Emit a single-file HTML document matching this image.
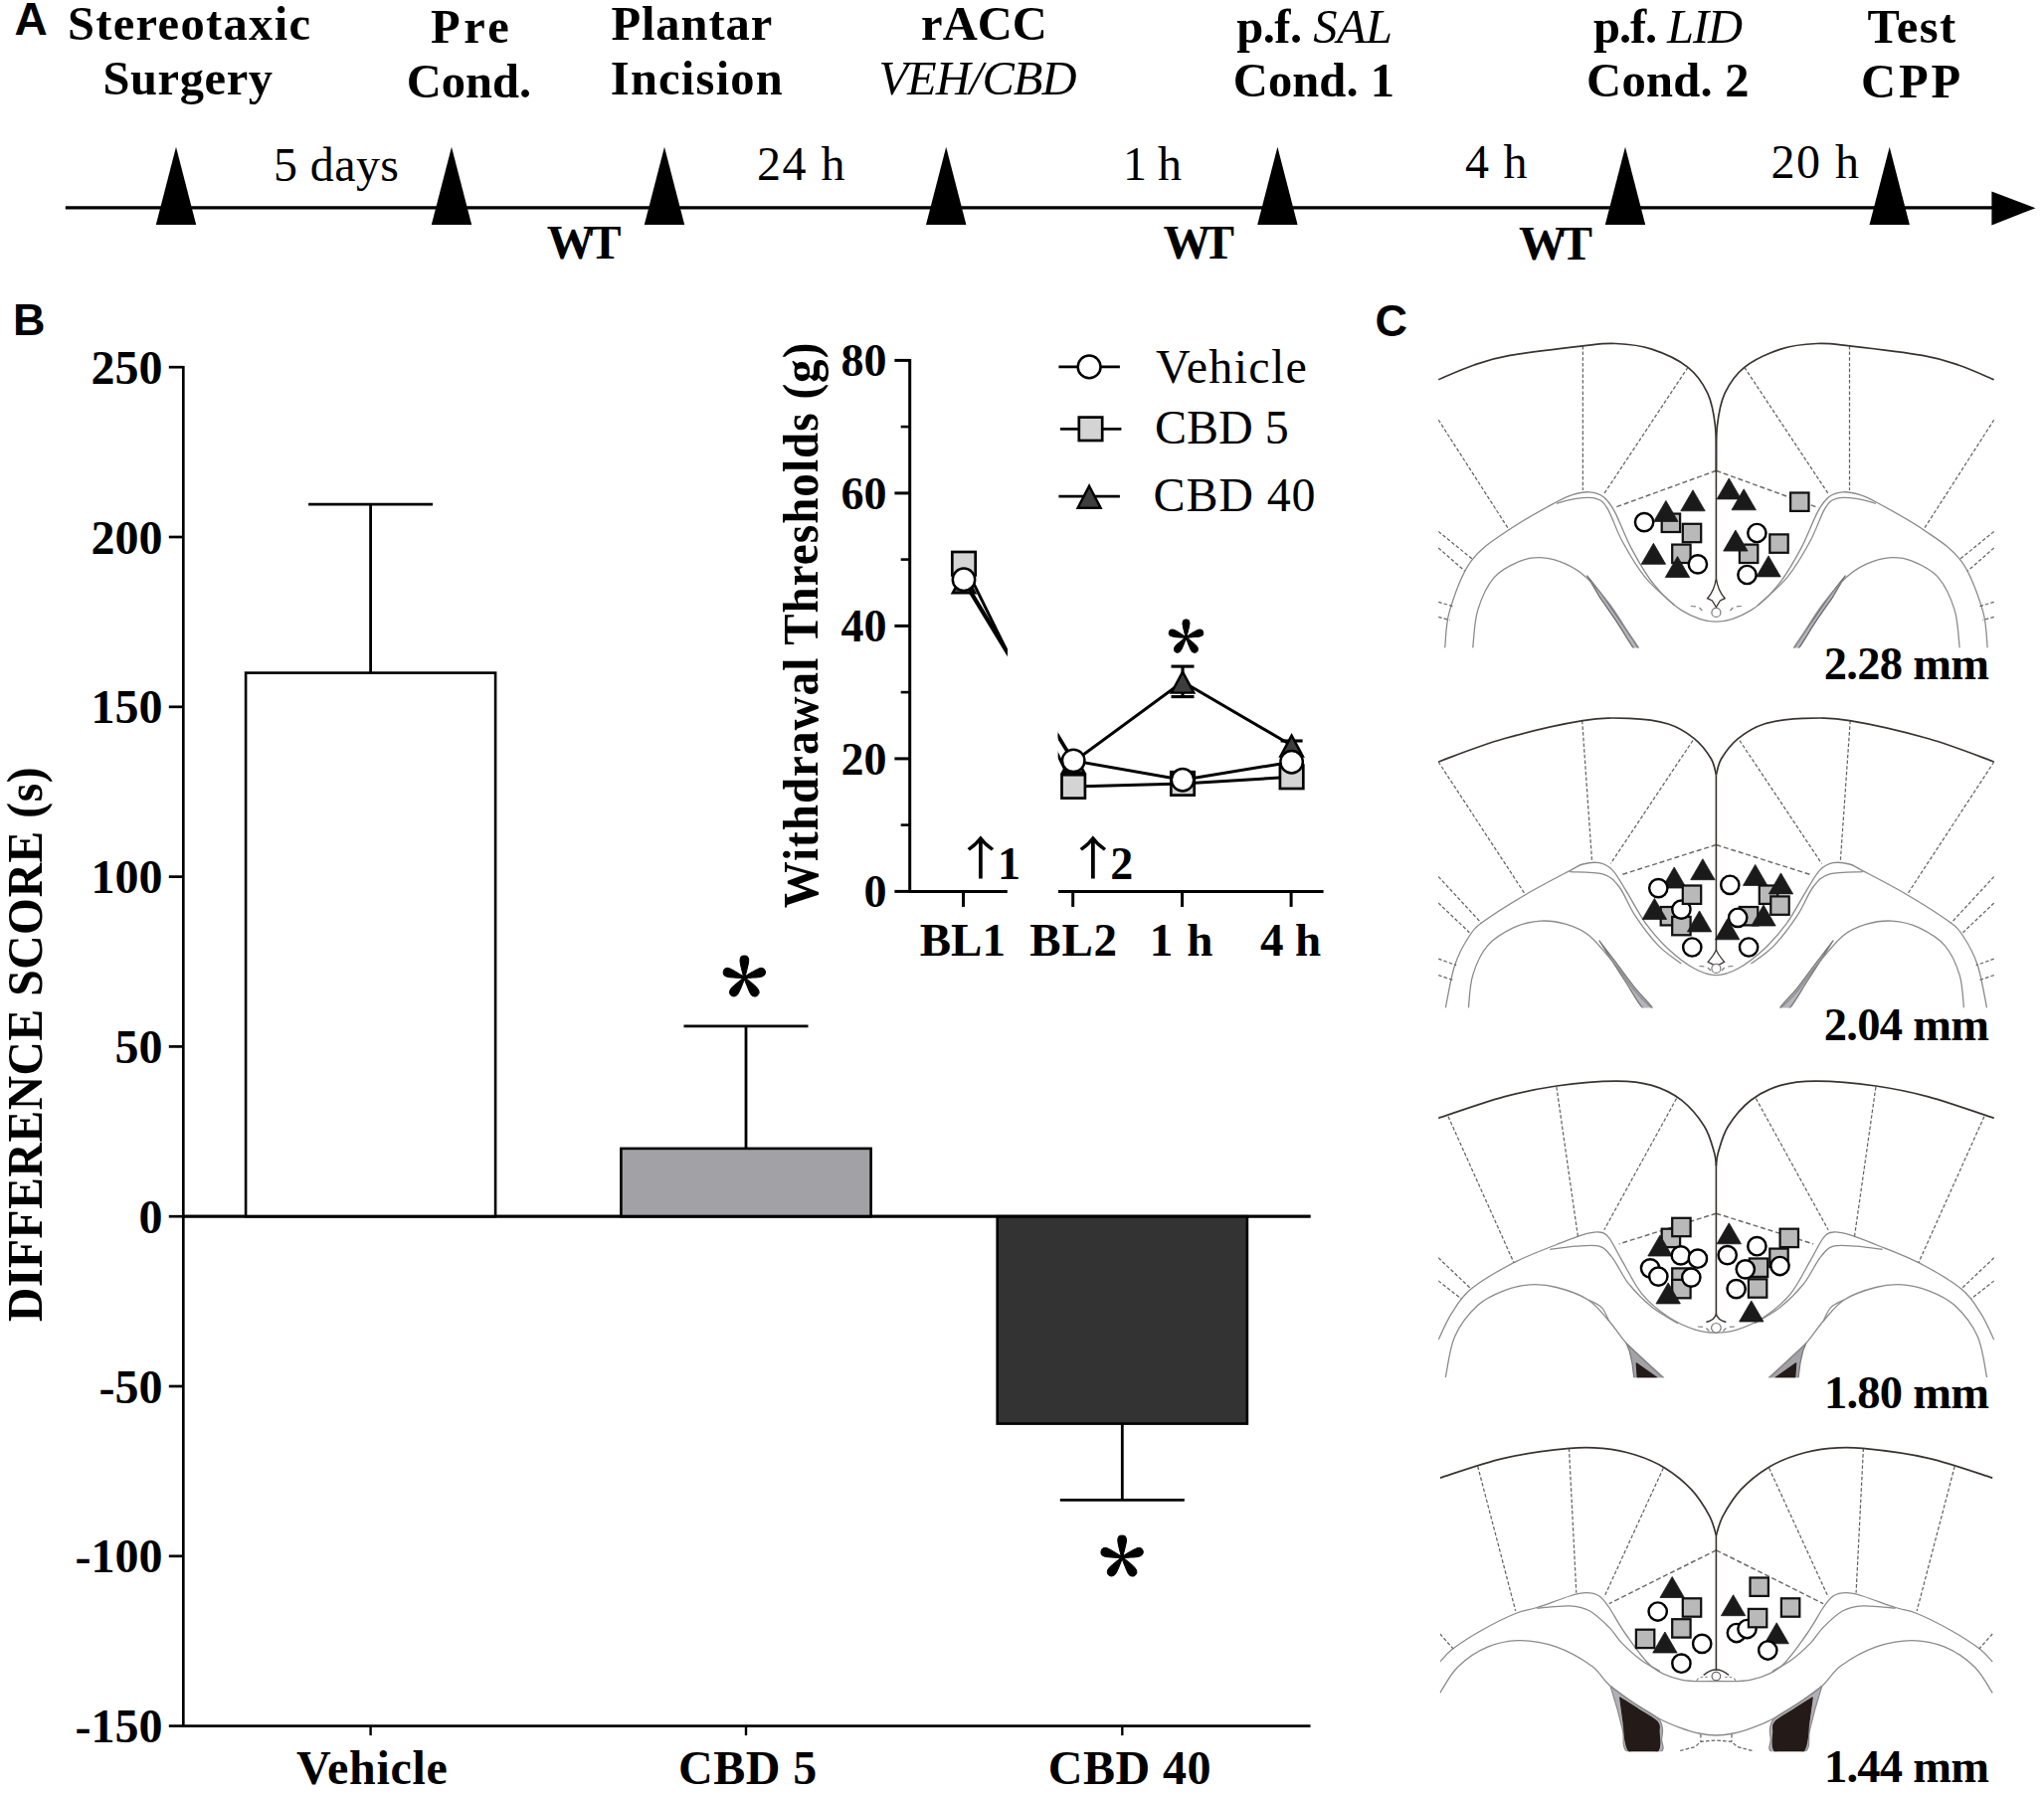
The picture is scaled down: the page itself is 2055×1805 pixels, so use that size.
<!DOCTYPE html>
<html lang="en"><head><meta charset="utf-8"><title>Figure: CBD in rACC and conditioned place preference</title>
<style>html,body{margin:0;padding:0;background:#fff;}svg{display:block;}text{fill:#000;}</style></head><body>
<svg width="2055" height="1805" viewBox="0 0 2055 1805" role="img" aria-label="Experimental timeline, conditioned place preference difference scores, withdrawal thresholds and rACC injection sites">
<rect width="2055" height="1805" fill="#fff"/>
<g id="panelA">
<text x="14.5" y="34.5" font-family='"Liberation Sans", Arial, sans-serif' font-size="46" font-weight="bold" font-style="normal" text-anchor="start">A</text>
<text x="67.90" y="39.6" font-family='"Liberation Serif", "Times New Roman", serif' font-size="48.5" font-weight="bold" font-style="normal" textLength="244.10" lengthAdjust="spacing">Stereotaxic</text>
<text x="103.50" y="94.5" font-family='"Liberation Serif", "Times New Roman", serif' font-size="48.5" font-weight="bold" font-style="normal" textLength="170.50" lengthAdjust="spacing">Surgery</text>
<text x="433.00" y="42.7" font-family='"Liberation Serif", "Times New Roman", serif' font-size="48.5" font-weight="bold" font-style="normal" textLength="78.80" lengthAdjust="spacing">Pre</text>
<text x="408.80" y="97.8" font-family='"Liberation Serif", "Times New Roman", serif' font-size="48.5" font-weight="bold" font-style="normal" textLength="125.30" lengthAdjust="spacing">Cond.</text>
<text x="614.40" y="39.6" font-family='"Liberation Serif", "Times New Roman", serif' font-size="48.5" font-weight="bold" font-style="normal" textLength="161.80" lengthAdjust="spacing">Plantar</text>
<text x="613.80" y="94.7" font-family='"Liberation Serif", "Times New Roman", serif' font-size="48.5" font-weight="bold" font-style="normal" textLength="173.00" lengthAdjust="spacing">Incision</text>
<text x="926.10" y="39.6" font-family='"Liberation Serif", "Times New Roman", serif' font-size="48.5" font-weight="bold" font-style="normal" textLength="126.70" lengthAdjust="spacing">rACC</text>
<text x="883.40" y="94.7" font-family='"Liberation Serif", "Times New Roman", serif' font-size="48.5" font-weight="normal" font-style="italic" textLength="199.10" lengthAdjust="spacing">VEH/CBD</text>
<text x="1243.20" y="43.3" font-family='"Liberation Serif", "Times New Roman", serif' font-size="48.5" font-weight="bold" font-style="normal" textLength="156.80" lengthAdjust="spacing">p.f. <tspan font-weight="normal" font-style="italic">SAL</tspan></text>
<text x="1239.80" y="97.3" font-family='"Liberation Serif", "Times New Roman", serif' font-size="48.5" font-weight="bold" font-style="normal" textLength="162.30" lengthAdjust="spacing">Cond. 1</text>
<text x="1602.00" y="43.3" font-family='"Liberation Serif", "Times New Roman", serif' font-size="48.5" font-weight="bold" font-style="normal" textLength="150.00" lengthAdjust="spacing">p.f. <tspan font-weight="normal" font-style="italic">LID</tspan></text>
<text x="1595.10" y="97.3" font-family='"Liberation Serif", "Times New Roman", serif' font-size="48.5" font-weight="bold" font-style="normal" textLength="163.40" lengthAdjust="spacing">Cond. 2</text>
<text x="1877.40" y="42.5" font-family='"Liberation Serif", "Times New Roman", serif' font-size="48.5" font-weight="bold" font-style="normal" textLength="88.70" lengthAdjust="spacing">Test</text>
<text x="1871.10" y="97.6" font-family='"Liberation Serif", "Times New Roman", serif' font-size="48.5" font-weight="bold" font-style="normal" textLength="100.10" lengthAdjust="spacing">CPP</text>
<line x1="65.8" y1="208.9" x2="2010.0" y2="208.9" stroke="#000" stroke-width="3.3"/>
<polygon points="2002.4,192.4 2046.5,209.2 2002.4,226.4" fill="#000" stroke="none" stroke-width="0"/>
<polygon points="177.0,147.8 197.2,226.0 156.8,226.0" fill="#000" stroke="none" stroke-width="0"/>
<polygon points="454.0,147.8 474.2,226.0 433.8,226.0" fill="#000" stroke="none" stroke-width="0"/>
<polygon points="668.0,147.8 688.2,226.0 647.8,226.0" fill="#000" stroke="none" stroke-width="0"/>
<polygon points="951.2,147.8 971.4,226.0 931.0,226.0" fill="#000" stroke="none" stroke-width="0"/>
<polygon points="1284.4,147.8 1304.6,226.0 1264.2,226.0" fill="#000" stroke="none" stroke-width="0"/>
<polygon points="1634.0,147.8 1654.2,226.0 1613.8,226.0" fill="#000" stroke="none" stroke-width="0"/>
<polygon points="1899.7,147.8 1919.9,226.0 1879.5,226.0" fill="#000" stroke="none" stroke-width="0"/>
<text x="275.00" y="181.5" font-family='"Liberation Serif", "Times New Roman", serif' font-size="48" font-weight="normal" font-style="normal" textLength="126.00" lengthAdjust="spacing">5 days</text>
<text x="761.00" y="181.0" font-family='"Liberation Serif", "Times New Roman", serif' font-size="48" font-weight="normal" font-style="normal" textLength="88.50" lengthAdjust="spacing">24 h</text>
<text x="1128.90" y="181.0" font-family='"Liberation Serif", "Times New Roman", serif' font-size="48" font-weight="normal" font-style="normal" textLength="59.10" lengthAdjust="spacing">1 h</text>
<text x="1473.00" y="178.6" font-family='"Liberation Serif", "Times New Roman", serif' font-size="48" font-weight="normal" font-style="normal" textLength="62.50" lengthAdjust="spacing">4 h</text>
<text x="1780.50" y="179.0" font-family='"Liberation Serif", "Times New Roman", serif' font-size="48" font-weight="normal" font-style="normal" textLength="88.50" lengthAdjust="spacing">20 h</text>
<text x="549.80" y="259.6" font-family='"Liberation Serif", "Times New Roman", serif' font-size="48" font-weight="bold" font-style="normal" textLength="74.80" lengthAdjust="spacing">WT</text>
<text x="1169.60" y="260.0" font-family='"Liberation Serif", "Times New Roman", serif' font-size="48" font-weight="bold" font-style="normal" textLength="71.50" lengthAdjust="spacing">WT</text>
<text x="1527.00" y="260.8" font-family='"Liberation Serif", "Times New Roman", serif' font-size="48" font-weight="bold" font-style="normal" textLength="74.00" lengthAdjust="spacing">WT</text>
</g>
<g id="panelB">
<text x="13.0" y="337.0" font-family='"Liberation Sans", Arial, sans-serif' font-size="45" font-weight="bold" font-style="normal" text-anchor="start">B</text>
<line x1="184.3" y1="367.9" x2="184.3" y2="1736.9" stroke="#000" stroke-width="2.7"/>
<line x1="184.3" y1="1735.6" x2="1317.5" y2="1735.6" stroke="#000" stroke-width="2.7"/>
<line x1="184.3" y1="1223.2" x2="1317.5" y2="1223.2" stroke="#000" stroke-width="2.7"/>
<line x1="169.8" y1="369.2" x2="184.3" y2="369.2" stroke="#000" stroke-width="2.7"/>
<text x="163.5" y="385.7" font-family='"Liberation Serif", "Times New Roman", serif' font-size="48" font-weight="bold" font-style="normal" text-anchor="end">250</text>
<line x1="169.8" y1="540.0" x2="184.3" y2="540.0" stroke="#000" stroke-width="2.7"/>
<text x="163.5" y="556.5" font-family='"Liberation Serif", "Times New Roman", serif' font-size="48" font-weight="bold" font-style="normal" text-anchor="end">200</text>
<line x1="169.8" y1="710.8" x2="184.3" y2="710.8" stroke="#000" stroke-width="2.7"/>
<text x="163.5" y="727.3" font-family='"Liberation Serif", "Times New Roman", serif' font-size="48" font-weight="bold" font-style="normal" text-anchor="end">150</text>
<line x1="169.8" y1="881.6" x2="184.3" y2="881.6" stroke="#000" stroke-width="2.7"/>
<text x="163.5" y="898.1" font-family='"Liberation Serif", "Times New Roman", serif' font-size="48" font-weight="bold" font-style="normal" text-anchor="end">100</text>
<line x1="169.8" y1="1052.4" x2="184.3" y2="1052.4" stroke="#000" stroke-width="2.7"/>
<text x="163.5" y="1068.9" font-family='"Liberation Serif", "Times New Roman", serif' font-size="48" font-weight="bold" font-style="normal" text-anchor="end">50</text>
<line x1="169.8" y1="1223.2" x2="184.3" y2="1223.2" stroke="#000" stroke-width="2.7"/>
<text x="163.5" y="1239.7" font-family='"Liberation Serif", "Times New Roman", serif' font-size="48" font-weight="bold" font-style="normal" text-anchor="end">0</text>
<line x1="169.8" y1="1394.0" x2="184.3" y2="1394.0" stroke="#000" stroke-width="2.7"/>
<text x="163.5" y="1410.5" font-family='"Liberation Serif", "Times New Roman", serif' font-size="48" font-weight="bold" font-style="normal" text-anchor="end">-50</text>
<line x1="169.8" y1="1564.8" x2="184.3" y2="1564.8" stroke="#000" stroke-width="2.7"/>
<text x="163.5" y="1581.3" font-family='"Liberation Serif", "Times New Roman", serif' font-size="48" font-weight="bold" font-style="normal" text-anchor="end">-100</text>
<line x1="169.8" y1="1735.6" x2="184.3" y2="1735.6" stroke="#000" stroke-width="2.7"/>
<text x="163.5" y="1752.1" font-family='"Liberation Serif", "Times New Roman", serif' font-size="48" font-weight="bold" font-style="normal" text-anchor="end">-150</text>
<line x1="372.6" y1="676.6" x2="372.6" y2="507.2" stroke="#000" stroke-width="2.8"/>
<line x1="310.1" y1="507.2" x2="435.1" y2="507.2" stroke="#000" stroke-width="2.8"/>
<rect x="247.1" y="676.6" width="251.0" height="546.6" fill="#fff" stroke="#000" stroke-width="2.6"/>
<line x1="372.6" y1="1735.6" x2="372.6" y2="1745.1" stroke="#000" stroke-width="2.4"/>
<line x1="750.0" y1="1154.9" x2="750.0" y2="1031.9" stroke="#000" stroke-width="2.8"/>
<line x1="687.5" y1="1031.9" x2="812.5" y2="1031.9" stroke="#000" stroke-width="2.8"/>
<rect x="624.4" y="1154.9" width="251.2" height="68.3" fill="#a2a1a6" stroke="#000" stroke-width="2.6"/>
<line x1="750.0" y1="1735.6" x2="750.0" y2="1745.1" stroke="#000" stroke-width="2.4"/>
<line x1="1128.3" y1="1431.6" x2="1128.3" y2="1508.4" stroke="#000" stroke-width="2.8"/>
<line x1="1065.8" y1="1508.4" x2="1190.8" y2="1508.4" stroke="#000" stroke-width="2.8"/>
<rect x="1002.7" y="1223.2" width="251.2" height="208.4" fill="#333" stroke="#000" stroke-width="2.6"/>
<line x1="1128.3" y1="1735.6" x2="1128.3" y2="1745.1" stroke="#000" stroke-width="2.4"/>
<line x1="184.3" y1="1223.2" x2="1317.5" y2="1223.2" stroke="#000" stroke-width="2.7"/>
<text x="298.10" y="1793.6" font-family='"Liberation Serif", "Times New Roman", serif' font-size="48" font-weight="bold" font-style="normal" textLength="151.70" lengthAdjust="spacing">Vehicle</text>
<text x="682.00" y="1793.6" font-family='"Liberation Serif", "Times New Roman", serif' font-size="48" font-weight="bold" font-style="normal" textLength="139.30" lengthAdjust="spacing">CBD 5</text>
<text x="1053.80" y="1793.6" font-family='"Liberation Serif", "Times New Roman", serif' font-size="48" font-weight="bold" font-style="normal" textLength="163.60" lengthAdjust="spacing">CBD 40</text>
<text x="748.2" y="1038.9" font-family='"Noto Serif CJK SC", "Liberation Serif", serif' font-size="94" font-weight="bold" font-style="normal" text-anchor="middle" stroke="#000" stroke-width="1">*</text>
<text x="1128.0" y="1622.3" font-family='"Noto Serif CJK SC", "Liberation Serif", serif' font-size="94" font-weight="bold" font-style="normal" text-anchor="middle" stroke="#000" stroke-width="1">*</text>
<text transform="translate(41.6,1050.2) rotate(-90) scale(1,1.06)" x="0" y="0" text-anchor="middle" font-family='"Liberation Serif", "Times New Roman", serif' font-size="47.5" font-weight="bold" textLength="557.6" lengthAdjust="spacing">DIFFERENCE SCORE (s)</text>
</g>
<g id="inset">
<line x1="914.7" y1="360.9" x2="914.7" y2="897.9" stroke="#000" stroke-width="3"/>
<line x1="914.7" y1="896.4" x2="1012.8" y2="896.4" stroke="#000" stroke-width="3"/>
<line x1="1064.0" y1="896.4" x2="1330.6" y2="896.4" stroke="#000" stroke-width="3"/>
<line x1="899.4" y1="362.4" x2="914.7" y2="362.4" stroke="#000" stroke-width="3"/>
<text x="891.6" y="378.0" font-family='"Liberation Serif", "Times New Roman", serif' font-size="46" font-weight="bold" font-style="normal" text-anchor="end">80</text>
<line x1="899.4" y1="495.9" x2="914.7" y2="495.9" stroke="#000" stroke-width="3"/>
<text x="891.6" y="511.5" font-family='"Liberation Serif", "Times New Roman", serif' font-size="46" font-weight="bold" font-style="normal" text-anchor="end">60</text>
<line x1="899.4" y1="629.4" x2="914.7" y2="629.4" stroke="#000" stroke-width="3"/>
<text x="891.6" y="645.0" font-family='"Liberation Serif", "Times New Roman", serif' font-size="46" font-weight="bold" font-style="normal" text-anchor="end">40</text>
<line x1="899.4" y1="762.9" x2="914.7" y2="762.9" stroke="#000" stroke-width="3"/>
<text x="891.6" y="778.5" font-family='"Liberation Serif", "Times New Roman", serif' font-size="46" font-weight="bold" font-style="normal" text-anchor="end">20</text>
<line x1="899.4" y1="896.4" x2="914.7" y2="896.4" stroke="#000" stroke-width="3"/>
<text x="891.6" y="912.0" font-family='"Liberation Serif", "Times New Roman", serif' font-size="46" font-weight="bold" font-style="normal" text-anchor="end">0</text>
<line x1="905.7" y1="429.1" x2="914.7" y2="429.1" stroke="#000" stroke-width="2.6"/>
<line x1="905.7" y1="562.6" x2="914.7" y2="562.6" stroke="#000" stroke-width="2.6"/>
<line x1="905.7" y1="696.1" x2="914.7" y2="696.1" stroke="#000" stroke-width="2.6"/>
<line x1="905.7" y1="829.6" x2="914.7" y2="829.6" stroke="#000" stroke-width="2.6"/>
<line x1="968.5" y1="896.4" x2="968.5" y2="911.9" stroke="#000" stroke-width="3"/>
<line x1="1078.7" y1="896.4" x2="1078.7" y2="911.9" stroke="#000" stroke-width="3"/>
<line x1="1188.5" y1="896.4" x2="1188.5" y2="911.9" stroke="#000" stroke-width="3"/>
<line x1="1298.1" y1="896.4" x2="1298.1" y2="911.9" stroke="#000" stroke-width="3"/>
<text x="924.80" y="960.9" font-family='"Liberation Serif", "Times New Roman", serif' font-size="47" font-weight="bold" font-style="normal" textLength="86.10" lengthAdjust="spacing">BL1</text>
<text x="1035.20" y="960.9" font-family='"Liberation Serif", "Times New Roman", serif' font-size="47" font-weight="bold" font-style="normal" textLength="87.90" lengthAdjust="spacing">BL2</text>
<text x="1155.80" y="960.9" font-family='"Liberation Serif", "Times New Roman", serif' font-size="47" font-weight="bold" font-style="normal" textLength="63.60" lengthAdjust="spacing">1 h</text>
<text x="1266.90" y="960.9" font-family='"Liberation Serif", "Times New Roman", serif' font-size="47" font-weight="bold" font-style="normal" textLength="61.20" lengthAdjust="spacing">4 h</text>
<text transform="translate(821.8,629) rotate(-90) scale(1,1.1)" x="0" y="0" text-anchor="middle" font-family='"Liberation Serif", "Times New Roman", serif' font-size="47" font-weight="bold" textLength="568.6" lengthAdjust="spacing">Withdrawal Thresholds (g)</text>
<clipPath id="clipL"><rect x="900" y="340" width="112.8" height="560"/></clipPath>
<clipPath id="clipR"><rect x="1063.7" y="340" width="300" height="560"/></clipPath>
<polyline points="969.0,585.3 1079.2,766.2 1189.0,685.5 1298.6,749.5" fill="none" stroke="#000" stroke-width="3" clip-path="url(#clipL)"/>
<polyline points="969.0,585.3 1079.2,766.2 1189.0,685.5 1298.6,749.5" fill="none" stroke="#000" stroke-width="3" clip-path="url(#clipR)"/>
<line x1="1189.0" y1="670.1" x2="1189.0" y2="700.6" stroke="#000" stroke-width="3.1"/>
<line x1="1177.5" y1="670.1" x2="1200.5" y2="670.1" stroke="#000" stroke-width="3.1"/>
<line x1="1177.5" y1="700.6" x2="1200.5" y2="700.6" stroke="#000" stroke-width="3.1"/>
<line x1="1298.6" y1="745.0" x2="1298.6" y2="760.0" stroke="#000" stroke-width="3.1"/>
<line x1="1287.6" y1="745.0" x2="1309.6" y2="745.0" stroke="#000" stroke-width="3.1"/>
<polygon points="969.0,575.4 980.3,596.4 957.7,596.4" fill="#3d3d3d" stroke="#000" stroke-width="2.4" stroke-linejoin="miter"/>
<polygon points="1079.2,756.3 1090.5,777.3 1067.9,777.3" fill="#3d3d3d" stroke="#000" stroke-width="2.4" stroke-linejoin="miter"/>
<polygon points="1189.0,675.6 1200.3,696.6 1177.7,696.6" fill="#3d3d3d" stroke="#000" stroke-width="2.4" stroke-linejoin="miter"/>
<polygon points="1298.6,739.6 1309.9,760.6 1287.3,760.6" fill="#3d3d3d" stroke="#000" stroke-width="2.4" stroke-linejoin="miter"/>
<polyline points="969.0,566.7 1079.2,790.9 1189.0,787.9 1298.6,781.3" fill="none" stroke="#000" stroke-width="3" clip-path="url(#clipL)"/>
<polyline points="969.0,566.7 1079.2,790.9 1189.0,787.9 1298.6,781.3" fill="none" stroke="#000" stroke-width="3" clip-path="url(#clipR)"/>
<rect x="957.3" y="555.0" width="23.4" height="23.4" fill="#d4d4d4" stroke="#000" stroke-width="2.7"/>
<rect x="1067.5" y="779.2" width="23.4" height="23.4" fill="#d4d4d4" stroke="#000" stroke-width="2.7"/>
<rect x="1177.3" y="776.2" width="23.4" height="23.4" fill="#d4d4d4" stroke="#000" stroke-width="2.7"/>
<rect x="1286.9" y="769.6" width="23.4" height="23.4" fill="#d4d4d4" stroke="#000" stroke-width="2.7"/>
<polyline points="969.0,582.7 1079.2,764.9 1189.0,784.3 1298.6,766.2" fill="none" stroke="#000" stroke-width="3" clip-path="url(#clipL)"/>
<polyline points="969.0,582.7 1079.2,764.9 1189.0,784.3 1298.6,766.2" fill="none" stroke="#000" stroke-width="3" clip-path="url(#clipR)"/>
<circle cx="969.0" cy="582.7" r="11.2" fill="#fff" stroke="#000" stroke-width="2.5"/>
<circle cx="1079.2" cy="764.9" r="11.2" fill="#fff" stroke="#000" stroke-width="2.5"/>
<circle cx="1189.0" cy="784.3" r="11.2" fill="#fff" stroke="#000" stroke-width="2.5"/>
<circle cx="1298.6" cy="766.2" r="11.2" fill="#fff" stroke="#000" stroke-width="2.5"/>
<text x="1192.5" y="686.6" font-family='"Noto Serif CJK SC", "Liberation Serif", serif' font-size="77" font-weight="bold" font-style="normal" text-anchor="middle" stroke="#000" stroke-width="0.8">*</text>
<text transform="translate(985.9,880.2) scale(1.15,1)" x="0" y="0" text-anchor="middle" font-family='"Noto Serif CJK SC", "Liberation Serif", serif' font-size="45" font-weight="bold" stroke="#000" stroke-width="1.1">↑</text>
<text x="1003.0" y="884.3" font-family='"Liberation Serif", "Times New Roman", serif' font-size="46" font-weight="bold" font-style="normal" text-anchor="start">1</text>
<text transform="translate(1098.8,880.2) scale(1.15,1)" x="0" y="0" text-anchor="middle" font-family='"Noto Serif CJK SC", "Liberation Serif", serif' font-size="45" font-weight="bold" stroke="#000" stroke-width="1.1">↑</text>
<text x="1116.3" y="884.3" font-family='"Liberation Serif", "Times New Roman", serif' font-size="46" font-weight="bold" font-style="normal" text-anchor="start">2</text>
<line x1="1064.4" y1="368.9" x2="1125.9" y2="368.9" stroke="#000" stroke-width="2.7"/>
<circle cx="1095.1" cy="368.9" r="11.4" fill="#fff" stroke="#000" stroke-width="2.5"/>
<text x="1162.10" y="384.6" font-family='"Liberation Serif", "Times New Roman", serif' font-size="48" font-weight="normal" font-style="normal" textLength="151.80" lengthAdjust="spacing">Vehicle</text>
<line x1="1065.9" y1="431.3" x2="1127.4" y2="431.3" stroke="#000" stroke-width="2.7"/>
<rect x="1084.8" y="419.6" width="23.4" height="23.4" fill="#d4d4d4" stroke="#000" stroke-width="2.7"/>
<text x="1161.00" y="446.4" font-family='"Liberation Serif", "Times New Roman", serif' font-size="48" font-weight="normal" font-style="normal" textLength="134.80" lengthAdjust="spacing">CBD 5</text>
<line x1="1064.4" y1="499.1" x2="1125.9" y2="499.1" stroke="#000" stroke-width="2.7"/>
<polygon points="1095.1,488.7 1106.6,510.7 1083.6,510.7" fill="#3d3d3d" stroke="#000" stroke-width="2.4" stroke-linejoin="miter"/>
<text x="1159.60" y="513.5" font-family='"Liberation Serif", "Times New Roman", serif' font-size="48" font-weight="normal" font-style="normal" textLength="163.00" lengthAdjust="spacing">CBD 40</text>
</g>
<g id="panelC">
<text x="1382.5" y="338.0" font-family='"Liberation Sans", Arial, sans-serif' font-size="45" font-weight="bold" font-style="normal" text-anchor="start">C</text>
<text x="1833.70" y="682.5" font-family='"Liberation Serif", "Times New Roman", serif' font-size="46.5" font-weight="bold" font-style="normal" textLength="166.30" lengthAdjust="spacing">2.28 mm</text>
<text x="1833.70" y="1046.4" font-family='"Liberation Serif", "Times New Roman", serif' font-size="46.5" font-weight="bold" font-style="normal" textLength="166.30" lengthAdjust="spacing">2.04 mm</text>
<text x="1833.90" y="1416.4" font-family='"Liberation Serif", "Times New Roman", serif' font-size="46.5" font-weight="bold" font-style="normal" textLength="166.10" lengthAdjust="spacing">1.80 mm</text>
<text x="1833.90" y="1792.3" font-family='"Liberation Serif", "Times New Roman", serif' font-size="46.5" font-weight="bold" font-style="normal" textLength="166.10" lengthAdjust="spacing">1.44 mm</text>
<clipPath id="c1"><rect x="1446.1" y="290.0" width="558.8" height="361.6"/></clipPath>
<g clip-path="url(#c1)">
<path d="M1595.7,579.0 C1598.2,582.3 1605.3,590.7 1611.2,598.8 C1617.1,606.9 1625.0,618.7 1631.0,627.5 C1637.0,636.4 1645.2,647.9 1647.2,652.0 C1649.1,656.0 1646.1,656.2 1642.5,652.0 C1639.0,647.7 1631.8,634.9 1626.0,626.2 C1620.3,617.5 1610.9,604.2 1607.9,599.8 Z" fill="#b4b4bc" stroke="#666" stroke-width="1.2" stroke-linejoin="round"/>
<path d="M1855.2,579.0 C1852.6,582.3 1845.6,590.7 1839.7,598.8 C1833.8,606.9 1825.9,618.7 1819.9,627.5 C1813.9,636.4 1805.6,647.9 1803.7,652.0 C1801.8,656.0 1804.8,656.2 1808.3,652.0 C1811.9,647.7 1819.1,634.9 1824.8,626.2 C1830.6,617.5 1840.0,604.2 1843.0,599.8 Z" fill="#b4b4bc" stroke="#666" stroke-width="1.2" stroke-linejoin="round"/>
<path d="M1452.7,651.6 C1453.5,645.3 1453.2,628.2 1457.6,613.6 C1462.0,599.1 1469.2,577.6 1479.1,564.1 C1489.0,550.6 1502.7,542.6 1517.1,532.7 C1531.4,522.8 1554.2,510.6 1564.9,504.7 C1575.7,498.8 1575.9,499.0 1581.5,497.4 C1587.0,495.7 1592.8,494.4 1598.0,494.8 C1603.1,495.1 1607.9,496.4 1612.2,499.7 C1616.4,503.0 1618.8,506.0 1623.4,514.6 C1628.0,523.1 1633.4,538.8 1639.9,550.9 C1646.4,563.0 1653.9,576.8 1662.4,587.2 C1670.8,597.7 1679.9,607.3 1690.4,613.6 C1700.9,620.0 1713.8,625.2 1725.4,625.2 C1737.1,625.2 1749.9,620.0 1760.4,613.6 C1771.0,607.3 1780.1,597.7 1788.5,587.2 C1796.9,576.8 1804.5,563.0 1811.0,550.9 C1817.5,538.8 1822.9,523.1 1827.5,514.6 C1832.1,506.0 1834.5,503.0 1838.7,499.7 C1843.0,496.4 1847.8,495.1 1852.9,494.8 C1858.0,494.4 1863.9,495.7 1869.4,497.4 C1874.9,499.0 1875.2,498.8 1885.9,504.7 C1896.7,510.6 1919.5,522.8 1933.8,532.7 C1948.1,542.6 1961.9,550.6 1971.8,564.1 C1981.7,577.6 1988.9,599.1 1993.3,613.6 C1997.7,628.2 1997.4,645.3 1998.2,651.6" fill="none" stroke="#8a8a8a" stroke-width="1.3"/>
<path d="M1564.9,506.3 C1568.2,505.5 1578.2,502.2 1584.8,501.4 C1591.4,500.5 1599.3,499.7 1604.6,501.4 C1609.8,503.0 1611.7,504.1 1616.1,511.3 C1620.5,518.4 1624.7,532.7 1631.0,544.3 C1637.3,555.9 1645.3,569.9 1654.1,580.6 C1662.9,591.4 1678.9,604.0 1683.8,608.7" fill="none" stroke="#8a8a8a" stroke-width="1.3"/>
<path d="M1885.9,506.3 C1882.6,505.5 1872.7,502.2 1866.1,501.4 C1859.5,500.5 1851.5,499.7 1846.3,501.4 C1841.1,503.0 1839.2,504.1 1834.8,511.3 C1830.4,518.4 1826.2,532.7 1819.9,544.3 C1813.6,555.9 1805.6,569.9 1796.8,580.6 C1788.0,591.4 1772.0,604.0 1767.1,608.7" fill="none" stroke="#8a8a8a" stroke-width="1.3"/>
<path d="M1480.7,651.6 C1481.6,645.3 1482.1,625.5 1485.7,613.6 C1489.3,601.8 1495.0,588.9 1502.2,580.6 C1509.3,572.4 1520.4,567.4 1528.6,564.1 C1536.9,560.8 1544.0,560.3 1551.7,560.8 C1559.4,561.4 1567.7,564.1 1574.8,567.4 C1582.0,570.7 1587.5,574.0 1594.7,580.6 C1601.8,587.2 1610.6,597.7 1617.8,607.0 C1624.9,616.4 1632.6,629.3 1637.6,636.8 C1642.5,644.2 1645.9,649.1 1647.5,651.6" fill="none" stroke="#8a8a8a" stroke-width="1.3"/>
<path d="M1970.2,651.6 C1969.3,645.3 1968.8,625.5 1965.2,613.6 C1961.6,601.8 1955.8,588.9 1948.7,580.6 C1941.5,572.4 1930.5,567.4 1922.3,564.1 C1914.0,560.8 1906.9,560.3 1899.2,560.8 C1891.4,561.4 1883.2,564.1 1876.0,567.4 C1868.9,570.7 1863.4,574.0 1856.2,580.6 C1849.1,587.2 1840.3,597.7 1833.1,607.0 C1825.9,616.4 1818.2,629.3 1813.3,636.8 C1808.3,644.2 1805.0,649.1 1803.4,651.6" fill="none" stroke="#8a8a8a" stroke-width="1.3"/>
<line x1="1591.4" y1="347.8" x2="1591.4" y2="493.1" stroke="#646464" stroke-width="1.25" stroke-dasharray="3.6 2.1"/>
<line x1="1859.5" y1="347.8" x2="1859.5" y2="493.1" stroke="#646464" stroke-width="1.25" stroke-dasharray="3.6 2.1"/>
<line x1="1697.0" y1="369.3" x2="1612.8" y2="496.4" stroke="#646464" stroke-width="1.25" stroke-dasharray="3.6 2.1"/>
<line x1="1753.8" y1="369.3" x2="1838.1" y2="496.4" stroke="#646464" stroke-width="1.25" stroke-dasharray="3.6 2.1"/>
<line x1="1446.1" y1="422.1" x2="1517.1" y2="532.7" stroke="#646464" stroke-width="1.25" stroke-dasharray="3.6 2.1"/>
<line x1="2004.8" y1="422.1" x2="1933.8" y2="532.7" stroke="#646464" stroke-width="1.25" stroke-dasharray="3.6 2.1"/>
<line x1="1446.1" y1="534.4" x2="1480.7" y2="562.5" stroke="#646464" stroke-width="1.25" stroke-dasharray="3.6 2.1"/>
<line x1="2004.8" y1="534.4" x2="1970.2" y2="562.5" stroke="#646464" stroke-width="1.25" stroke-dasharray="3.6 2.1"/>
<line x1="1446.1" y1="550.9" x2="1472.5" y2="574.0" stroke="#646464" stroke-width="1.25" stroke-dasharray="3.6 2.1"/>
<line x1="2004.8" y1="550.9" x2="1978.4" y2="574.0" stroke="#646464" stroke-width="1.25" stroke-dasharray="3.6 2.1"/>
<line x1="1446.1" y1="605.4" x2="1460.9" y2="609.7" stroke="#646464" stroke-width="1.25" stroke-dasharray="3.6 2.1"/>
<line x1="2004.8" y1="605.4" x2="1990.0" y2="609.7" stroke="#646464" stroke-width="1.25" stroke-dasharray="3.6 2.1"/>
<line x1="1446.1" y1="620.3" x2="1457.6" y2="623.6" stroke="#646464" stroke-width="1.25" stroke-dasharray="3.6 2.1"/>
<line x1="2004.8" y1="620.3" x2="1993.3" y2="623.6" stroke="#646464" stroke-width="1.25" stroke-dasharray="3.6 2.1"/>
<line x1="1725.4" y1="473.3" x2="1622.7" y2="510.6" stroke="#6a6a6a" stroke-width="1.45" stroke-dasharray="5 2.8"/>
<line x1="1725.4" y1="473.3" x2="1828.2" y2="510.6" stroke="#6a6a6a" stroke-width="1.45" stroke-dasharray="5 2.8"/>
<path d="M1446.1,381.8 C1451.9,379.4 1469.4,371.4 1481.4,367.3 C1493.4,363.2 1499.7,360.6 1518.0,357.4 C1536.4,354.1 1573.6,349.8 1591.4,347.8 C1609.1,345.8 1612.8,344.9 1624.4,345.5 C1635.9,346.0 1648.6,347.1 1660.7,351.1 C1672.8,355.1 1687.7,361.8 1697.0,369.3 C1706.4,376.7 1712.3,385.8 1716.9,395.7 C1721.4,405.6 1723.0,415.5 1724.5,428.7 C1725.9,441.9 1725.3,467.2 1725.4,474.9" fill="none" stroke="#3a3330" stroke-width="1.7"/>
<path d="M2004.8,381.8 C1998.9,379.4 1981.5,371.4 1969.5,367.3 C1957.5,363.2 1951.2,360.6 1932.8,357.4 C1914.5,354.1 1877.2,349.8 1859.5,347.8 C1841.8,345.8 1838.1,344.9 1826.5,345.5 C1814.9,346.0 1802.3,347.1 1790.2,351.1 C1778.1,355.1 1763.2,361.8 1753.8,369.3 C1744.5,376.7 1738.6,385.8 1734.0,395.7 C1729.5,405.6 1727.9,415.5 1726.4,428.7 C1725.0,441.9 1725.6,467.2 1725.4,474.9" fill="none" stroke="#3a3330" stroke-width="1.7"/>
<line x1="1725.4" y1="474.9" x2="1725.4" y2="581.3" stroke="#3a3330" stroke-width="1.6"/>
<path d="M1725.4,581.1 Q1723.9,593.7 1716.6,601.7 L1721.4,603.9 L1725.4,610.6 L1729.4,603.9 L1734.2,601.7 Q1726.9,593.7 1725.4,581.1 Z" fill="#fff" stroke="#3a3330" stroke-width="1.3" stroke-linejoin="miter"/><circle cx="1725.4" cy="615.9" r="4.5" fill="#fff" stroke="#777" stroke-width="1.2"/><path d="M1699.9,609.5 L1704.9,609.8 M1708.4,611.0 L1711.4,614.0" fill="none" stroke="#808080" stroke-width="1.2"/><path d="M1750.9,609.5 L1745.9,609.8 M1742.4,611.0 L1739.4,614.0" fill="none" stroke="#808080" stroke-width="1.2"/>
</g>
<rect x="1670.7" y="516.6" width="18.4" height="18.4" fill="#b9b9b9" stroke="#111" stroke-width="2.25"/>
<polygon points="1674.9,503.4 1687.1,524.4 1662.7,524.4" fill="#1a1a1a" stroke="#1a1a1a" stroke-width="0.8"/>
<polygon points="1702.0,492.8 1714.2,513.8 1689.8,513.8" fill="#1a1a1a" stroke="#1a1a1a" stroke-width="0.8"/>
<rect x="1691.8" y="526.8" width="18.4" height="18.4" fill="#b9b9b9" stroke="#111" stroke-width="2.25"/>
<circle cx="1653.1" cy="525.1" r="9.15" fill="#fff" stroke="#000" stroke-width="2.45"/>
<polygon points="1662.4,546.3 1674.6,567.3 1650.2,567.3" fill="#1a1a1a" stroke="#1a1a1a" stroke-width="0.8"/>
<rect x="1681.2" y="547.6" width="18.4" height="18.4" fill="#b9b9b9" stroke="#111" stroke-width="2.25"/>
<polygon points="1686.5,559.5 1698.7,580.5 1674.3,580.5" fill="#1a1a1a" stroke="#1a1a1a" stroke-width="0.8"/>
<circle cx="1706.9" cy="567.4" r="9.15" fill="#fff" stroke="#000" stroke-width="2.45"/>
<polygon points="1738.3,480.9 1750.5,501.9 1726.1,501.9" fill="#1a1a1a" stroke="#1a1a1a" stroke-width="0.8"/>
<polygon points="1753.2,491.8 1765.4,512.8 1741.0,512.8" fill="#1a1a1a" stroke="#1a1a1a" stroke-width="0.8"/>
<rect x="1800.1" y="495.5" width="18.4" height="18.4" fill="#b9b9b9" stroke="#111" stroke-width="2.25"/>
<circle cx="1766.4" cy="536.0" r="9.15" fill="#fff" stroke="#000" stroke-width="2.45"/>
<rect x="1779.3" y="537.4" width="18.4" height="18.4" fill="#b9b9b9" stroke="#111" stroke-width="2.25"/>
<rect x="1748.9" y="547.6" width="18.4" height="18.4" fill="#b9b9b9" stroke="#111" stroke-width="2.25"/>
<polygon points="1744.9,533.1 1757.1,554.1 1732.7,554.1" fill="#1a1a1a" stroke="#1a1a1a" stroke-width="0.8"/>
<polygon points="1778.0,558.9 1790.2,579.9 1765.8,579.9" fill="#1a1a1a" stroke="#1a1a1a" stroke-width="0.8"/>
<circle cx="1756.5" cy="578.0" r="9.15" fill="#fff" stroke="#000" stroke-width="2.45"/>
<clipPath id="c2"><rect x="1446.1" y="690.0" width="558.8" height="323.6"/></clipPath>
<g clip-path="url(#c2)">
<path d="M1607.9,945.9 C1610.6,949.5 1618.3,959.4 1624.4,967.4 C1630.4,975.4 1638.0,986.1 1644.2,993.8 C1650.4,1001.5 1660.2,1010.3 1661.4,1013.6 C1662.6,1016.9 1656.0,1018.0 1651.5,1013.6 C1647.0,1009.2 1639.6,995.5 1634.3,987.2 C1629.0,979.0 1621.9,968.0 1619.4,964.1 Z" fill="#b4b4bc" stroke="#777" stroke-width="1.2" stroke-linejoin="round"/>
<path d="M1843.0,945.9 C1840.3,949.5 1832.6,959.4 1826.5,967.4 C1820.4,975.4 1812.8,986.1 1806.7,993.8 C1800.5,1001.5 1790.7,1010.3 1789.5,1013.6 C1788.3,1016.9 1794.9,1018.0 1799.4,1013.6 C1803.9,1009.2 1811.3,995.5 1816.6,987.2 C1821.9,979.0 1829.0,968.0 1831.5,964.1 Z" fill="#b4b4bc" stroke="#777" stroke-width="1.2" stroke-linejoin="round"/>
<path d="M1453.3,1013.6 C1454.9,1006.5 1458.5,982.8 1462.6,970.7 C1466.6,958.6 1472.5,948.4 1477.4,941.0 C1482.4,933.6 1482.9,933.0 1492.3,926.1 C1501.6,919.2 1519.3,908.1 1533.6,899.7 C1547.9,891.3 1568.5,880.7 1578.2,875.6 C1587.8,870.5 1586.4,870.3 1591.4,869.0 C1596.3,867.7 1602.9,866.7 1607.9,867.7 C1612.8,868.7 1616.7,870.4 1621.1,874.9 C1625.5,879.5 1628.8,885.9 1634.3,894.8 C1639.8,903.6 1647.0,917.9 1654.1,927.8 C1661.3,937.7 1669.0,946.5 1677.2,954.2 C1685.5,961.9 1695.6,969.6 1703.6,974.0 C1711.7,978.4 1718.2,980.6 1725.4,980.6 C1732.7,980.6 1739.2,978.4 1747.2,974.0 C1755.3,969.6 1765.4,961.9 1773.7,954.2 C1781.9,946.5 1789.6,937.7 1796.8,927.8 C1803.9,917.9 1811.1,903.6 1816.6,894.8 C1822.1,885.9 1825.4,879.5 1829.8,874.9 C1834.2,870.4 1838.1,868.7 1843.0,867.7 C1848.0,866.7 1854.6,867.7 1859.5,869.0 C1864.5,870.3 1863.1,870.5 1872.7,875.6 C1882.4,880.7 1903.0,891.3 1917.3,899.7 C1931.6,908.1 1949.2,919.2 1958.6,926.1 C1968.0,933.0 1968.5,933.6 1973.5,941.0 C1978.4,948.4 1984.3,958.6 1988.3,970.7 C1992.3,982.8 1996.0,1006.5 1997.6,1013.6" fill="none" stroke="#8a8a8a" stroke-width="1.3"/>
<path d="M1578.2,876.6 C1583.7,877.0 1602.9,876.4 1611.2,878.9 C1619.4,881.4 1622.2,884.4 1627.7,891.5 C1633.2,898.5 1637.6,911.3 1644.2,921.2 C1650.8,931.1 1659.6,942.9 1667.3,950.9 C1675.0,958.9 1686.6,966.0 1690.4,969.1" fill="none" stroke="#8a8a8a" stroke-width="1.3"/>
<path d="M1872.7,876.6 C1867.2,877.0 1848.0,876.4 1839.7,878.9 C1831.5,881.4 1828.7,884.4 1823.2,891.5 C1817.7,898.5 1813.3,911.3 1806.7,921.2 C1800.1,931.1 1791.3,942.9 1783.6,950.9 C1775.9,958.9 1764.3,966.0 1760.4,969.1" fill="none" stroke="#8a8a8a" stroke-width="1.3"/>
<path d="M1476.4,1013.6 C1477.1,1008.1 1477.5,991.1 1480.7,980.6 C1483.9,970.2 1488.7,958.9 1495.6,950.9 C1502.5,942.9 1513.2,936.9 1522.0,932.7 C1530.8,928.6 1539.6,926.7 1548.4,926.1 C1557.2,925.6 1566.6,927.0 1574.8,929.4 C1583.1,931.9 1589.7,934.1 1598.0,941.0 C1606.2,947.9 1616.7,961.4 1624.4,970.7 C1632.1,980.1 1638.1,990.0 1644.2,997.1 C1650.3,1004.3 1658.0,1010.9 1660.7,1013.6" fill="none" stroke="#8a8a8a" stroke-width="1.3"/>
<path d="M1974.5,1013.6 C1973.7,1008.1 1973.4,991.1 1970.2,980.6 C1967.0,970.2 1962.2,958.9 1955.3,950.9 C1948.4,942.9 1937.7,936.9 1928.9,932.7 C1920.1,928.6 1911.3,926.7 1902.5,926.1 C1893.7,925.6 1884.3,927.0 1876.0,929.4 C1867.8,931.9 1861.2,934.1 1852.9,941.0 C1844.7,947.9 1834.2,961.4 1826.5,970.7 C1818.8,980.1 1812.7,990.0 1806.7,997.1 C1800.6,1004.3 1792.9,1010.9 1790.2,1013.6" fill="none" stroke="#8a8a8a" stroke-width="1.3"/>
<line x1="1590.7" y1="724.7" x2="1600.6" y2="866.7" stroke="#646464" stroke-width="1.25" stroke-dasharray="3.6 2.1"/>
<line x1="1860.2" y1="724.7" x2="1850.3" y2="866.7" stroke="#646464" stroke-width="1.25" stroke-dasharray="3.6 2.1"/>
<line x1="1702.0" y1="744.5" x2="1619.4" y2="868.3" stroke="#646464" stroke-width="1.25" stroke-dasharray="3.6 2.1"/>
<line x1="1748.9" y1="744.5" x2="1831.5" y2="868.3" stroke="#646464" stroke-width="1.25" stroke-dasharray="3.6 2.1"/>
<line x1="1446.1" y1="766.0" x2="1533.6" y2="899.7" stroke="#646464" stroke-width="1.25" stroke-dasharray="3.6 2.1"/>
<line x1="2004.8" y1="766.0" x2="1917.3" y2="899.7" stroke="#646464" stroke-width="1.25" stroke-dasharray="3.6 2.1"/>
<line x1="1446.1" y1="881.5" x2="1489.0" y2="927.8" stroke="#646464" stroke-width="1.25" stroke-dasharray="3.6 2.1"/>
<line x1="2004.8" y1="881.5" x2="1961.9" y2="927.8" stroke="#646464" stroke-width="1.25" stroke-dasharray="3.6 2.1"/>
<line x1="1446.1" y1="908.0" x2="1477.4" y2="937.7" stroke="#646464" stroke-width="1.25" stroke-dasharray="3.6 2.1"/>
<line x1="2004.8" y1="908.0" x2="1973.5" y2="937.7" stroke="#646464" stroke-width="1.25" stroke-dasharray="3.6 2.1"/>
<line x1="1446.1" y1="964.1" x2="1464.2" y2="970.7" stroke="#646464" stroke-width="1.25" stroke-dasharray="3.6 2.1"/>
<line x1="2004.8" y1="964.1" x2="1986.7" y2="970.7" stroke="#646464" stroke-width="1.25" stroke-dasharray="3.6 2.1"/>
<line x1="1446.1" y1="980.6" x2="1460.9" y2="985.6" stroke="#646464" stroke-width="1.25" stroke-dasharray="3.6 2.1"/>
<line x1="2004.8" y1="980.6" x2="1990.0" y2="985.6" stroke="#646464" stroke-width="1.25" stroke-dasharray="3.6 2.1"/>
<line x1="1725.4" y1="849.5" x2="1629.3" y2="879.9" stroke="#6a6a6a" stroke-width="1.45" stroke-dasharray="5 2.8"/>
<line x1="1725.4" y1="849.5" x2="1821.5" y2="879.9" stroke="#6a6a6a" stroke-width="1.45" stroke-dasharray="5 2.8"/>
<path d="M1446.1,766.0 C1457.1,762.1 1487.9,749.7 1512.1,742.8 C1536.3,736.0 1570.4,728.1 1591.4,724.7 C1612.3,721.3 1623.3,721.8 1637.6,722.4 C1651.9,722.9 1666.2,724.6 1677.2,728.0 C1688.2,731.4 1696.5,737.1 1703.6,742.8 C1710.8,748.6 1716.5,756.6 1720.2,762.7 C1723.8,768.7 1724.6,776.4 1725.4,779.2" fill="none" stroke="#3a3330" stroke-width="1.7"/>
<path d="M2004.8,766.0 C1993.8,762.1 1963.0,749.7 1938.8,742.8 C1914.6,736.0 1880.4,728.1 1859.5,724.7 C1838.6,721.3 1827.6,721.8 1813.3,722.4 C1799.0,722.9 1784.7,724.6 1773.7,728.0 C1762.7,731.4 1754.4,737.1 1747.2,742.8 C1740.1,748.6 1734.4,756.6 1730.7,762.7 C1727.1,768.7 1726.3,776.4 1725.4,779.2" fill="none" stroke="#3a3330" stroke-width="1.7"/>
<line x1="1725.4" y1="779.2" x2="1725.4" y2="955.2" stroke="#3a3330" stroke-width="1.6"/>
<path d="M1725.4,954.9 Q1723.9,959.4 1717.1,967.4 L1721.7,969.6 L1725.4,972.5 L1729.1,969.6 L1733.7,967.4 Q1726.9,959.4 1725.4,954.9 Z" fill="#fff" stroke="#3a3330" stroke-width="1.3" stroke-linejoin="miter"/><circle cx="1725.4" cy="973.9" r="4.5" fill="#fff" stroke="#777" stroke-width="1.2"/><path d="M1708.4,971.5 L1713.4,971.8 M1716.9,973.0 L1719.9,976.0" fill="none" stroke="#808080" stroke-width="1.2"/><path d="M1742.4,971.5 L1737.4,971.8 M1733.9,973.0 L1730.9,976.0" fill="none" stroke="#808080" stroke-width="1.2"/>
</g>
<polygon points="1683.2,872.0 1695.4,893.0 1671.0,893.0" fill="#1a1a1a" stroke="#1a1a1a" stroke-width="0.8"/>
<polygon points="1711.9,863.7 1724.1,884.7 1699.7,884.7" fill="#1a1a1a" stroke="#1a1a1a" stroke-width="0.8"/>
<circle cx="1667.3" cy="893.1" r="9.15" fill="#fff" stroke="#000" stroke-width="2.45"/>
<rect x="1669.7" y="912.0" width="18.4" height="18.4" fill="#b9b9b9" stroke="#111" stroke-width="2.25"/>
<polygon points="1663.4,903.4 1675.6,924.4 1651.2,924.4" fill="#1a1a1a" stroke="#1a1a1a" stroke-width="0.8"/>
<rect x="1681.2" y="921.9" width="18.4" height="18.4" fill="#b9b9b9" stroke="#111" stroke-width="2.25"/>
<circle cx="1690.4" cy="914.6" r="9.15" fill="#fff" stroke="#000" stroke-width="2.45"/>
<rect x="1691.8" y="890.5" width="18.4" height="18.4" fill="#b9b9b9" stroke="#111" stroke-width="2.25"/>
<polygon points="1708.6,915.9 1720.8,936.9 1696.4,936.9" fill="#1a1a1a" stroke="#1a1a1a" stroke-width="0.8"/>
<circle cx="1701.3" cy="952.5" r="9.15" fill="#fff" stroke="#000" stroke-width="2.45"/>
<circle cx="1739.3" cy="889.8" r="9.15" fill="#fff" stroke="#000" stroke-width="2.45"/>
<polygon points="1764.7,869.4 1776.9,890.4 1752.5,890.4" fill="#1a1a1a" stroke="#1a1a1a" stroke-width="0.8"/>
<rect x="1768.8" y="890.5" width="18.4" height="18.4" fill="#b9b9b9" stroke="#111" stroke-width="2.25"/>
<polygon points="1790.5,877.9 1802.7,898.9 1778.3,898.9" fill="#1a1a1a" stroke="#1a1a1a" stroke-width="0.8"/>
<rect x="1780.3" y="901.4" width="18.4" height="18.4" fill="#b9b9b9" stroke="#111" stroke-width="2.25"/>
<rect x="1748.9" y="912.0" width="18.4" height="18.4" fill="#b9b9b9" stroke="#111" stroke-width="2.25"/>
<polygon points="1773.0,910.0 1785.2,931.0 1760.8,931.0" fill="#1a1a1a" stroke="#1a1a1a" stroke-width="0.8"/>
<circle cx="1747.2" cy="922.8" r="9.15" fill="#fff" stroke="#000" stroke-width="2.45"/>
<polygon points="1736.7,923.8 1748.9,944.8 1724.5,944.8" fill="#1a1a1a" stroke="#1a1a1a" stroke-width="0.8"/>
<circle cx="1758.1" cy="952.5" r="9.15" fill="#fff" stroke="#000" stroke-width="2.45"/>
<clipPath id="c3"><rect x="1446.1" y="1060.0" width="558.8" height="325.3"/></clipPath>
<g clip-path="url(#c3)">
<path d="M1635.0,1350.6 L1654.1,1368.8 L1672.9,1386.0 L1642.9,1386.0 L1640.9,1370.4 L1638.3,1358.9 Z" fill="#a3a2a8" stroke="#777" stroke-width="1.2" stroke-linejoin="round"/>
<path d="M1815.9,1350.6 L1796.8,1368.8 L1778.0,1386.0 L1808.0,1386.0 L1810.0,1370.4 L1812.6,1358.9 Z" fill="#a3a2a8" stroke="#777" stroke-width="1.2" stroke-linejoin="round"/>
<path d="M1645.2,1370.8 L1665.7,1385.3 L1646.2,1385.3 Z" fill="#241b18" stroke="#241b18" stroke-width="1.2" stroke-linejoin="round"/>
<path d="M1805.7,1370.8 L1785.2,1385.3 L1804.7,1385.3 Z" fill="#241b18" stroke="#241b18" stroke-width="1.2" stroke-linejoin="round"/>
<path d="M1446.1,1347.3 C1448.3,1342.9 1453.8,1329.4 1459.3,1320.9 C1464.8,1312.4 1468.6,1304.7 1479.1,1296.1 C1489.5,1287.6 1507.7,1277.1 1522.0,1269.7 C1536.3,1262.3 1553.4,1256.2 1564.9,1251.5 C1576.5,1246.9 1584.2,1243.7 1591.4,1241.6 C1598.5,1239.5 1603.5,1238.4 1607.9,1239.0 C1612.3,1239.5 1613.9,1240.1 1617.8,1244.9 C1621.6,1249.8 1625.5,1258.7 1631.0,1268.1 C1636.5,1277.4 1643.1,1291.7 1650.8,1301.1 C1658.5,1310.4 1668.4,1318.3 1677.2,1324.2 C1686.0,1330.1 1695.6,1334.1 1703.6,1336.8 C1711.7,1339.4 1718.2,1340.1 1725.4,1340.1 C1732.7,1340.1 1739.2,1339.4 1747.2,1336.8 C1755.3,1334.1 1764.9,1330.1 1773.7,1324.2 C1782.5,1318.3 1792.4,1310.4 1800.1,1301.1 C1807.8,1291.7 1814.4,1277.4 1819.9,1268.1 C1825.4,1258.7 1829.3,1249.8 1833.1,1244.9 C1837.0,1240.1 1838.6,1239.5 1843.0,1239.0 C1847.4,1238.4 1852.4,1239.5 1859.5,1241.6 C1866.7,1243.7 1874.4,1246.9 1885.9,1251.5 C1897.5,1256.2 1914.6,1262.3 1928.9,1269.7 C1943.2,1277.1 1961.4,1287.6 1971.8,1296.1 C1982.3,1304.7 1986.1,1312.4 1991.6,1320.9 C1997.1,1329.4 2002.6,1342.9 2004.8,1347.3" fill="none" stroke="#8a8a8a" stroke-width="1.3"/>
<path d="M1558.3,1256.5 C1562.7,1255.9 1576.5,1253.7 1584.8,1253.2 C1593.0,1252.6 1601.8,1251.3 1607.9,1253.2 C1613.9,1255.1 1616.1,1258.4 1621.1,1264.8 C1626.0,1271.1 1631.0,1282.9 1637.6,1291.2 C1644.2,1299.4 1652.5,1307.7 1660.7,1314.3 C1669.0,1320.9 1682.7,1328.1 1687.1,1330.8" fill="none" stroke="#8a8a8a" stroke-width="1.3"/>
<path d="M1892.5,1256.5 C1888.1,1255.9 1874.4,1253.7 1866.1,1253.2 C1857.9,1252.6 1849.1,1251.3 1843.0,1253.2 C1837.0,1255.1 1834.8,1258.4 1829.8,1264.8 C1824.8,1271.1 1819.9,1282.9 1813.3,1291.2 C1806.7,1299.4 1798.4,1307.7 1790.2,1314.3 C1781.9,1320.9 1768.2,1328.1 1763.8,1330.8" fill="none" stroke="#8a8a8a" stroke-width="1.3"/>
<path d="M1453.3,1385.3 C1454.9,1378.4 1457.2,1356.1 1462.6,1344.0 C1468.0,1331.9 1477.4,1320.3 1485.7,1312.6 C1493.9,1304.9 1503.3,1301.2 1512.1,1297.8 C1520.9,1294.3 1529.7,1292.4 1538.5,1291.8 C1547.3,1291.3 1555.3,1291.9 1564.9,1294.5 C1574.6,1297.0 1587.8,1301.4 1596.6,1307.0 C1605.5,1312.7 1611.4,1321.2 1617.8,1328.5 C1624.2,1335.8 1628.9,1343.9 1635.0,1350.6 C1641.0,1357.3 1647.8,1363.0 1654.1,1368.8 C1660.4,1374.6 1669.5,1382.8 1672.6,1385.6" fill="none" stroke="#8a8a8a" stroke-width="1.3"/>
<path d="M1997.6,1385.3 C1996.0,1378.4 1993.7,1356.1 1988.3,1344.0 C1982.9,1331.9 1973.5,1320.3 1965.2,1312.6 C1956.9,1304.9 1947.6,1301.2 1938.8,1297.8 C1930.0,1294.3 1921.2,1292.4 1912.4,1291.8 C1903.6,1291.3 1895.6,1291.9 1885.9,1294.5 C1876.3,1297.0 1863.0,1301.4 1854.2,1307.0 C1845.4,1312.7 1839.5,1321.2 1833.1,1328.5 C1826.7,1335.8 1822.0,1343.9 1815.9,1350.6 C1809.9,1357.3 1803.1,1363.0 1796.8,1368.8 C1790.5,1374.6 1781.4,1382.8 1778.3,1385.6" fill="none" stroke="#8a8a8a" stroke-width="1.3"/>
<path d="M1596.6,1307.0 C1598.9,1308.3 1606.7,1311.0 1610.2,1314.6 C1613.7,1318.2 1616.5,1326.2 1617.8,1328.5" fill="none" stroke="#8a8a8a" stroke-width="1.3"/>
<path d="M1854.2,1307.0 C1852.0,1308.3 1844.2,1311.0 1840.7,1314.6 C1837.2,1318.2 1834.4,1326.2 1833.1,1328.5" fill="none" stroke="#8a8a8a" stroke-width="1.3"/>
<line x1="1456.0" y1="1122.7" x2="1522.0" y2="1269.7" stroke="#646464" stroke-width="1.25" stroke-dasharray="3.6 2.1"/>
<line x1="1994.9" y1="1122.7" x2="1928.9" y2="1269.7" stroke="#646464" stroke-width="1.25" stroke-dasharray="3.6 2.1"/>
<line x1="1564.9" y1="1093.0" x2="1586.4" y2="1243.3" stroke="#646464" stroke-width="1.25" stroke-dasharray="3.6 2.1"/>
<line x1="1885.9" y1="1093.0" x2="1864.5" y2="1243.3" stroke="#646464" stroke-width="1.25" stroke-dasharray="3.6 2.1"/>
<line x1="1685.5" y1="1104.6" x2="1612.8" y2="1236.7" stroke="#646464" stroke-width="1.25" stroke-dasharray="3.6 2.1"/>
<line x1="1765.4" y1="1104.6" x2="1838.1" y2="1236.7" stroke="#646464" stroke-width="1.25" stroke-dasharray="3.6 2.1"/>
<line x1="1446.1" y1="1264.8" x2="1479.1" y2="1296.1" stroke="#646464" stroke-width="1.25" stroke-dasharray="3.6 2.1"/>
<line x1="2004.8" y1="1264.8" x2="1971.8" y2="1296.1" stroke="#646464" stroke-width="1.25" stroke-dasharray="3.6 2.1"/>
<line x1="1446.1" y1="1287.9" x2="1469.2" y2="1306.0" stroke="#646464" stroke-width="1.25" stroke-dasharray="3.6 2.1"/>
<line x1="2004.8" y1="1287.9" x2="1981.7" y2="1306.0" stroke="#646464" stroke-width="1.25" stroke-dasharray="3.6 2.1"/>
<line x1="1725.4" y1="1220.2" x2="1627.7" y2="1250.9" stroke="#6a6a6a" stroke-width="1.45" stroke-dasharray="5 2.8"/>
<line x1="1725.4" y1="1220.2" x2="1823.2" y2="1250.9" stroke="#6a6a6a" stroke-width="1.45" stroke-dasharray="5 2.8"/>
<path d="M1446.1,1124.4 C1457.1,1120.8 1492.3,1108.3 1512.1,1102.9 C1531.9,1097.5 1546.2,1094.7 1564.9,1092.0 C1583.7,1089.4 1608.4,1087.2 1624.4,1087.1 C1640.3,1087.0 1649.7,1088.2 1660.7,1091.4 C1671.7,1094.6 1681.6,1099.4 1690.4,1106.2 C1699.2,1113.1 1708.0,1123.8 1713.6,1132.7 C1719.1,1141.5 1721.5,1152.5 1723.5,1159.1 C1725.4,1165.7 1725.1,1170.1 1725.4,1172.3" fill="none" stroke="#3a3330" stroke-width="1.7"/>
<path d="M2004.8,1124.4 C1993.8,1120.8 1958.6,1108.3 1938.8,1102.9 C1919.0,1097.5 1904.7,1094.7 1885.9,1092.0 C1867.2,1089.4 1842.5,1087.2 1826.5,1087.1 C1810.5,1087.0 1801.2,1088.2 1790.2,1091.4 C1779.2,1094.6 1769.3,1099.4 1760.4,1106.2 C1751.6,1113.1 1742.8,1123.8 1737.3,1132.7 C1731.8,1141.5 1729.4,1152.5 1727.4,1159.1 C1725.4,1165.7 1725.8,1170.1 1725.4,1172.3" fill="none" stroke="#3a3330" stroke-width="1.7"/>
<line x1="1725.4" y1="1172.3" x2="1725.4" y2="1320.9" stroke="#3a3330" stroke-width="1.6"/>
<path d="M1715.4,1329.5 Q1724.4,1327.0 1725.4,1320.8 Q1726.4,1327.0 1735.4,1329.5" fill="none" stroke="#3a3330" stroke-width="1.4"/><circle cx="1725.4" cy="1335.3" r="4.8" fill="#fff" stroke="#777" stroke-width="1.2"/><path d="M1706.9,1334.0 L1711.9,1334.3 M1715.4,1335.5 L1718.4,1338.5" fill="none" stroke="#808080" stroke-width="1.2"/><path d="M1743.9,1334.0 L1738.9,1334.3 M1735.4,1335.5 L1732.4,1338.5" fill="none" stroke="#808080" stroke-width="1.2"/>
</g>
<rect x="1670.7" y="1235.7" width="18.4" height="18.4" fill="#b9b9b9" stroke="#111" stroke-width="2.25"/>
<rect x="1681.2" y="1224.8" width="18.4" height="18.4" fill="#b9b9b9" stroke="#111" stroke-width="2.25"/>
<polygon points="1669.0,1242.0 1681.2,1263.0 1656.8,1263.0" fill="#1a1a1a" stroke="#1a1a1a" stroke-width="0.8"/>
<circle cx="1689.8" cy="1262.4" r="9.15" fill="#fff" stroke="#000" stroke-width="2.45"/>
<circle cx="1706.9" cy="1265.7" r="9.15" fill="#fff" stroke="#000" stroke-width="2.45"/>
<circle cx="1659.1" cy="1275.3" r="9.15" fill="#fff" stroke="#000" stroke-width="2.45"/>
<rect x="1681.2" y="1275.4" width="18.4" height="18.4" fill="#b9b9b9" stroke="#111" stroke-width="2.25"/>
<rect x="1681.2" y="1286.9" width="18.4" height="18.4" fill="#b9b9b9" stroke="#111" stroke-width="2.25"/>
<circle cx="1667.3" cy="1283.6" r="9.15" fill="#fff" stroke="#000" stroke-width="2.45"/>
<circle cx="1700.3" cy="1284.6" r="9.15" fill="#fff" stroke="#000" stroke-width="2.45"/>
<polygon points="1677.2,1289.9 1689.4,1310.9 1665.0,1310.9" fill="#1a1a1a" stroke="#1a1a1a" stroke-width="0.8"/>
<polygon points="1738.3,1229.8 1750.5,1250.8 1726.1,1250.8" fill="#1a1a1a" stroke="#1a1a1a" stroke-width="0.8"/>
<rect x="1789.6" y="1235.7" width="18.4" height="18.4" fill="#b9b9b9" stroke="#111" stroke-width="2.25"/>
<circle cx="1766.4" cy="1253.2" r="9.15" fill="#fff" stroke="#000" stroke-width="2.45"/>
<circle cx="1736.7" cy="1262.1" r="9.15" fill="#fff" stroke="#000" stroke-width="2.45"/>
<rect x="1779.3" y="1255.6" width="18.4" height="18.4" fill="#b9b9b9" stroke="#111" stroke-width="2.25"/>
<rect x="1758.8" y="1265.5" width="18.4" height="18.4" fill="#b9b9b9" stroke="#111" stroke-width="2.25"/>
<circle cx="1754.8" cy="1276.3" r="9.15" fill="#fff" stroke="#000" stroke-width="2.45"/>
<circle cx="1789.5" cy="1273.0" r="9.15" fill="#fff" stroke="#000" stroke-width="2.45"/>
<rect x="1757.9" y="1286.3" width="18.4" height="18.4" fill="#b9b9b9" stroke="#111" stroke-width="2.25"/>
<circle cx="1745.6" cy="1296.1" r="9.15" fill="#fff" stroke="#000" stroke-width="2.45"/>
<polygon points="1760.8,1308.0 1773.0,1329.0 1748.6,1329.0" fill="#1a1a1a" stroke="#1a1a1a" stroke-width="0.8"/>
<clipPath id="c4"><rect x="1447.7" y="1425.0" width="557.1" height="336.2"/></clipPath>
<g clip-path="url(#c4)">
<path d="M1619.1,1695.5 C1622.9,1698.2 1634.1,1706.7 1641.9,1712.0 C1649.7,1717.3 1661.1,1722.9 1666.0,1727.2 C1670.9,1731.4 1670.5,1733.8 1671.3,1737.4 C1672.1,1741.1 1671.0,1745.0 1670.6,1749.0 C1670.3,1753.0 1675.0,1759.4 1669.3,1761.5 C1663.6,1763.6 1642.5,1764.9 1636.3,1761.5 C1630.0,1758.1 1633.2,1747.8 1631.7,1741.1 C1630.1,1734.3 1627.5,1724.3 1626.7,1720.9 Z" fill="#b0b0b6" stroke="#8a8a8a" stroke-width="1.2" stroke-linejoin="round"/>
<path d="M1831.8,1695.5 C1828.0,1698.2 1816.8,1706.7 1809.0,1712.0 C1801.2,1717.3 1789.8,1722.9 1784.9,1727.2 C1780.0,1731.4 1780.4,1733.8 1779.6,1737.4 C1778.8,1741.1 1779.9,1745.0 1780.3,1749.0 C1780.6,1753.0 1775.9,1759.4 1781.6,1761.5 C1787.3,1763.6 1808.3,1764.9 1814.6,1761.5 C1820.9,1758.1 1817.6,1747.8 1819.2,1741.1 C1820.8,1734.3 1823.4,1724.3 1824.2,1720.9 Z" fill="#b0b0b6" stroke="#8a8a8a" stroke-width="1.2" stroke-linejoin="round"/>
<path d="M1628.7,1707.0 C1631.8,1709.0 1641.3,1714.9 1647.5,1718.9 C1653.7,1722.9 1662.6,1727.5 1666.0,1731.1 C1669.4,1734.8 1668.0,1736.0 1668.0,1741.1 C1668.0,1746.1 1671.0,1758.1 1666.0,1761.5 C1661.0,1764.9 1643.9,1766.2 1638.3,1761.5 C1632.6,1756.8 1633.3,1738.1 1632.3,1733.5 Z" fill="#241b18" stroke="#241b18" stroke-width="1.2" stroke-linejoin="round"/>
<path d="M1822.2,1707.0 C1819.1,1709.0 1809.6,1714.9 1803.4,1718.9 C1797.2,1722.9 1788.3,1727.5 1784.9,1731.1 C1781.5,1734.8 1782.9,1736.0 1782.9,1741.1 C1782.9,1746.1 1779.9,1758.1 1784.9,1761.5 C1789.8,1764.9 1807.0,1766.2 1812.6,1761.5 C1818.2,1756.8 1817.6,1738.1 1818.6,1733.5 Z" fill="#241b18" stroke="#241b18" stroke-width="1.2" stroke-linejoin="round"/>
<path d="M1447.7,1671.0 C1449.9,1668.8 1454.0,1663.1 1460.9,1657.8 C1467.8,1652.6 1478.5,1645.6 1489.0,1639.7 C1499.4,1633.8 1514.3,1626.3 1523.7,1622.5 C1533.0,1618.6 1536.0,1619.5 1545.1,1616.5 C1554.2,1613.6 1569.9,1607.5 1578.2,1605.0 C1586.4,1602.5 1589.7,1601.7 1594.7,1601.7 C1599.6,1601.7 1604.0,1602.5 1607.9,1605.0 C1611.7,1607.5 1613.4,1610.2 1617.8,1616.5 C1622.2,1622.9 1627.1,1633.1 1634.3,1643.0 C1641.4,1652.9 1651.4,1668.3 1660.7,1676.0 C1670.1,1683.7 1679.6,1686.8 1690.4,1689.2 C1701.2,1691.6 1713.8,1690.5 1725.4,1690.5 C1737.1,1690.5 1749.7,1691.6 1760.4,1689.2 C1771.2,1686.8 1780.8,1683.7 1790.2,1676.0 C1799.5,1668.3 1809.4,1652.9 1816.6,1643.0 C1823.7,1633.1 1828.7,1622.9 1833.1,1616.5 C1837.5,1610.2 1839.2,1607.5 1843.0,1605.0 C1846.9,1602.5 1851.3,1601.7 1856.2,1601.7 C1861.2,1601.7 1864.5,1602.5 1872.7,1605.0 C1881.0,1607.5 1896.7,1613.6 1905.8,1616.5 C1914.8,1619.5 1917.9,1618.6 1927.2,1622.5 C1936.6,1626.3 1951.4,1633.8 1961.9,1639.7 C1972.4,1645.6 1983.1,1652.6 1990.0,1657.8 C1996.9,1663.1 2001.0,1668.8 2003.2,1671.0" fill="none" stroke="#8a8a8a" stroke-width="1.3"/>
<path d="M1447.7,1702.4 C1450.7,1698.0 1457.9,1683.7 1465.9,1676.0 C1473.8,1668.3 1485.1,1660.6 1495.6,1656.2 C1506.0,1651.8 1517.1,1649.6 1528.6,1649.6 C1540.2,1649.6 1553.1,1651.9 1564.9,1656.2 C1576.8,1660.4 1591.1,1668.7 1599.9,1675.0 C1608.8,1681.3 1610.8,1688.0 1617.8,1694.2 C1624.8,1700.3 1633.4,1706.3 1641.9,1712.0 C1650.4,1717.7 1660.8,1724.3 1668.6,1728.5 C1676.5,1732.7 1682.6,1735.0 1689.1,1737.4 C1695.7,1739.8 1701.9,1741.8 1707.9,1743.0 C1714.0,1744.3 1719.6,1745.0 1725.4,1745.0 C1731.3,1745.0 1736.9,1744.3 1742.9,1743.0 C1749.0,1741.8 1755.2,1739.8 1761.8,1737.4 C1768.3,1735.0 1774.4,1732.7 1782.2,1728.5 C1790.1,1724.3 1800.5,1717.7 1809.0,1712.0 C1817.5,1706.3 1826.1,1700.3 1833.1,1694.2 C1840.1,1688.0 1842.1,1681.3 1850.9,1675.0 C1859.7,1668.7 1874.1,1660.4 1885.9,1656.2 C1897.8,1651.9 1910.7,1649.6 1922.3,1649.6 C1933.8,1649.6 1944.8,1651.8 1955.3,1656.2 C1965.8,1660.6 1977.0,1668.3 1985.0,1676.0 C1993.0,1683.7 2000.2,1698.0 2003.2,1702.4" fill="none" stroke="#8a8a8a" stroke-width="1.3"/>
<path d="M1545.1,1617.2 C1550.6,1616.8 1569.3,1614.5 1578.2,1614.9 C1587.0,1615.3 1591.4,1616.3 1598.0,1619.8 C1604.6,1623.4 1612.4,1631.1 1617.8,1636.4 C1623.1,1641.6 1624.8,1646.2 1630.0,1651.6 C1635.2,1656.9 1642.7,1663.9 1649.2,1668.7 C1655.6,1673.6 1665.7,1678.6 1669.0,1680.6" fill="none" stroke="#8a8a8a" stroke-width="1.3"/>
<path d="M1905.8,1617.2 C1900.3,1616.8 1881.5,1614.5 1872.7,1614.9 C1863.9,1615.3 1859.5,1616.3 1852.9,1619.8 C1846.3,1623.4 1838.4,1631.1 1833.1,1636.4 C1827.8,1641.6 1826.1,1646.2 1820.9,1651.6 C1815.7,1656.9 1808.2,1663.9 1801.7,1668.7 C1795.2,1673.6 1785.2,1678.6 1781.9,1680.6" fill="none" stroke="#8a8a8a" stroke-width="1.3"/>
<line x1="1485.7" y1="1474.5" x2="1523.7" y2="1619.8" stroke="#646464" stroke-width="1.25" stroke-dasharray="3.6 2.1"/>
<line x1="1965.2" y1="1474.5" x2="1927.2" y2="1619.8" stroke="#646464" stroke-width="1.25" stroke-dasharray="3.6 2.1"/>
<line x1="1577.5" y1="1456.4" x2="1584.8" y2="1601.7" stroke="#646464" stroke-width="1.25" stroke-dasharray="3.6 2.1"/>
<line x1="1873.4" y1="1456.4" x2="1866.1" y2="1601.7" stroke="#646464" stroke-width="1.25" stroke-dasharray="3.6 2.1"/>
<line x1="1672.3" y1="1476.2" x2="1612.8" y2="1606.0" stroke="#646464" stroke-width="1.25" stroke-dasharray="3.6 2.1"/>
<line x1="1778.6" y1="1476.2" x2="1838.1" y2="1606.0" stroke="#646464" stroke-width="1.25" stroke-dasharray="3.6 2.1"/>
<line x1="1447.7" y1="1643.0" x2="1460.9" y2="1657.8" stroke="#646464" stroke-width="1.25" stroke-dasharray="3.6 2.1"/>
<line x1="2003.2" y1="1643.0" x2="1990.0" y2="1657.8" stroke="#646464" stroke-width="1.25" stroke-dasharray="3.6 2.1"/>
<line x1="1725.4" y1="1558.8" x2="1617.8" y2="1612.6" stroke="#6a6a6a" stroke-width="1.45" stroke-dasharray="5 2.8"/>
<line x1="1725.4" y1="1558.8" x2="1833.1" y2="1612.6" stroke="#6a6a6a" stroke-width="1.45" stroke-dasharray="5 2.8"/>
<polyline points="1689.1,1760.5 1704.3,1756.6 1709.9,1751.3 1725.4,1750.0 1741.0,1751.3 1746.6,1756.6 1761.8,1760.5" fill="none" stroke="#646464" stroke-width="1.25" stroke-dasharray="3.6 2.1"/>
<polyline points="1709.9,1744.0 1709.9,1751.3" fill="none" stroke="#646464" stroke-width="1.25" stroke-dasharray="3.6 2.1"/>
<polyline points="1741.0,1744.0 1741.0,1751.3" fill="none" stroke="#646464" stroke-width="1.25" stroke-dasharray="3.6 2.1"/>
<path d="M1447.7,1486.1 C1458.4,1482.8 1490.4,1471.2 1512.1,1466.3 C1533.8,1461.3 1561.6,1458.0 1578.2,1456.4 C1594.7,1454.7 1600.2,1455.3 1611.2,1456.4 C1622.2,1457.5 1633.7,1459.7 1644.2,1463.0 C1654.7,1466.3 1664.6,1470.4 1673.9,1476.2 C1683.3,1482.0 1692.9,1489.7 1700.3,1497.7 C1707.8,1505.6 1714.3,1516.4 1718.5,1524.1 C1722.7,1531.8 1724.3,1540.6 1725.4,1543.9" fill="none" stroke="#3a3330" stroke-width="1.7"/>
<path d="M2003.2,1486.1 C1992.5,1482.8 1960.5,1471.2 1938.8,1466.3 C1917.0,1461.3 1889.2,1458.0 1872.7,1456.4 C1856.2,1454.7 1850.7,1455.3 1839.7,1456.4 C1828.7,1457.5 1817.1,1459.7 1806.7,1463.0 C1796.2,1466.3 1786.3,1470.4 1777.0,1476.2 C1767.6,1482.0 1758.0,1489.7 1750.5,1497.7 C1743.1,1505.6 1736.6,1516.4 1732.4,1524.1 C1728.2,1531.8 1726.6,1540.6 1725.4,1543.9" fill="none" stroke="#3a3330" stroke-width="1.7"/>
<line x1="1725.4" y1="1543.9" x2="1725.4" y2="1679.6" stroke="#3a3330" stroke-width="1.6"/>
<path d="M1712.7,1684.5 Q1725.4,1673.6 1738.1,1684.5" fill="none" stroke="#3a3330" stroke-width="1.5"/><circle cx="1725.4" cy="1685.6" r="4.3" fill="#fff" stroke="#666" stroke-width="1.2"/><path d="M1705.8,1690 Q1708,1685.2 1716.5,1686.6" fill="none" stroke="#888" stroke-width="1.1" stroke-dasharray="3 2"/><path d="M1745,1690 Q1742.8,1685.2 1734.3,1686.6" fill="none" stroke="#888" stroke-width="1.1" stroke-dasharray="3 2"/>
</g>
<polygon points="1681.2,1585.5 1693.4,1606.5 1669.0,1606.5" fill="#1a1a1a" stroke="#1a1a1a" stroke-width="0.8"/>
<rect x="1691.8" y="1607.3" width="18.4" height="18.4" fill="#b9b9b9" stroke="#111" stroke-width="2.25"/>
<circle cx="1666.7" cy="1620.5" r="9.15" fill="#fff" stroke="#000" stroke-width="2.45"/>
<rect x="1681.2" y="1628.2" width="18.4" height="18.4" fill="#b9b9b9" stroke="#111" stroke-width="2.25"/>
<rect x="1644.9" y="1638.7" width="18.4" height="18.4" fill="#b9b9b9" stroke="#111" stroke-width="2.25"/>
<polygon points="1673.9,1641.0 1686.1,1662.0 1661.7,1662.0" fill="#1a1a1a" stroke="#1a1a1a" stroke-width="0.8"/>
<circle cx="1711.2" cy="1652.9" r="9.15" fill="#fff" stroke="#000" stroke-width="2.45"/>
<circle cx="1690.4" cy="1672.7" r="9.15" fill="#fff" stroke="#000" stroke-width="2.45"/>
<rect x="1759.5" y="1586.5" width="18.4" height="18.4" fill="#b9b9b9" stroke="#111" stroke-width="2.25"/>
<polygon points="1742.6,1603.7 1754.8,1624.7 1730.4,1624.7" fill="#1a1a1a" stroke="#1a1a1a" stroke-width="0.8"/>
<rect x="1790.9" y="1607.3" width="18.4" height="18.4" fill="#b9b9b9" stroke="#111" stroke-width="2.25"/>
<circle cx="1745.9" cy="1642.0" r="9.15" fill="#fff" stroke="#000" stroke-width="2.45"/>
<circle cx="1756.5" cy="1638.0" r="9.15" fill="#fff" stroke="#000" stroke-width="2.45"/>
<rect x="1757.9" y="1617.9" width="18.4" height="18.4" fill="#b9b9b9" stroke="#111" stroke-width="2.25"/>
<polygon points="1786.2,1631.8 1798.4,1652.8 1774.0,1652.8" fill="#1a1a1a" stroke="#1a1a1a" stroke-width="0.8"/>
<circle cx="1777.3" cy="1659.5" r="9.15" fill="#fff" stroke="#000" stroke-width="2.45"/>
</g>
</svg></body></html>
